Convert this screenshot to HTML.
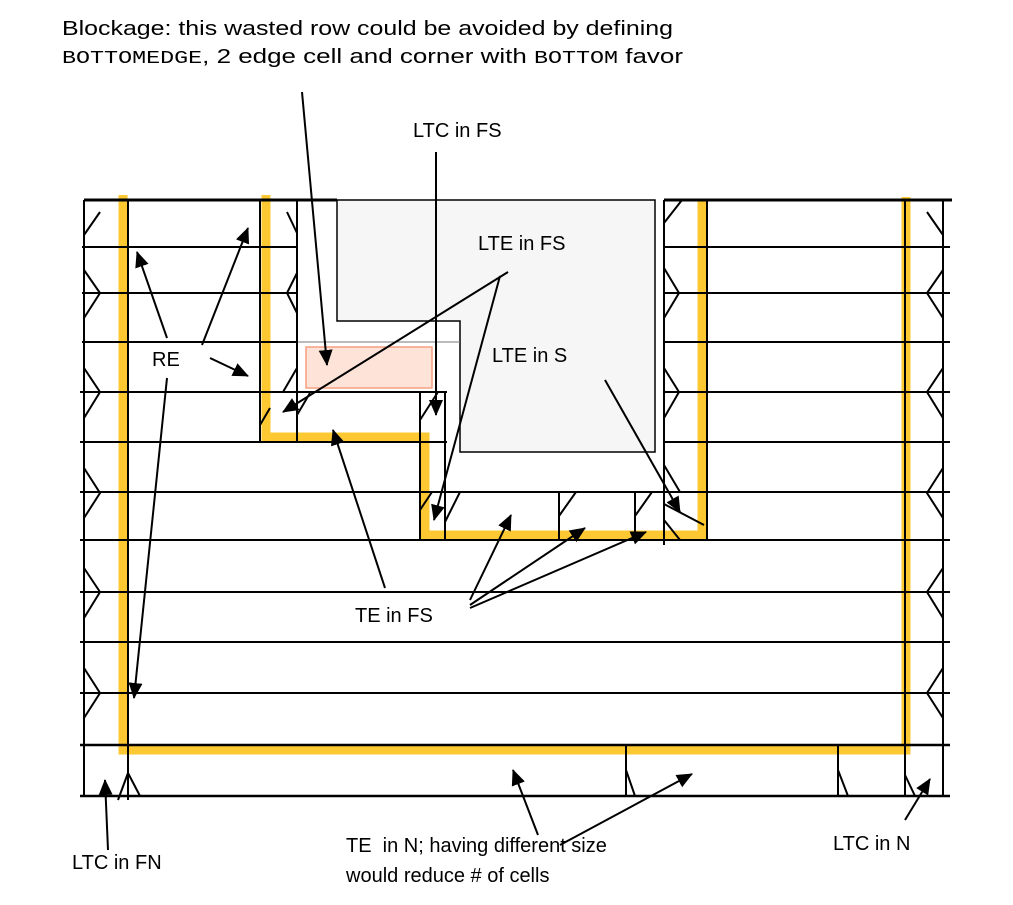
<!DOCTYPE html>
<html><head><meta charset="utf-8"><style>
html,body{margin:0;padding:0;background:#fff;}
svg{display:block;}
text{font-family:"Liberation Sans",sans-serif;font-size:20px;fill:#000;}
.m{font-family:"Liberation Mono",monospace;font-size:18px;}
</style></head><body>
<svg width="1013" height="905" viewBox="0 0 1013 905" xmlns="http://www.w3.org/2000/svg">
<defs>
<marker id="b" markerWidth="16" markerHeight="16" refX="15" refY="8" orient="auto" markerUnits="userSpaceOnUse" viewBox="0 0 16 16"><path d="M0,1 L16,8 L0,15 z" fill="#000"/></marker></defs>
<path d="M337,200 L655,200 L655,452 L460,452 L460,321 L337,321 Z" fill="#f6f6f6" stroke="#000" stroke-width="1.5"/>
<rect x="306" y="347" width="126" height="41" fill="#fde3d8" stroke="#f5a080" stroke-width="1.5"/>
<g fill="none" stroke="#fdc832" stroke-width="9">
<path d="M123,195 L123,750 L906,750 L906,197"/>
<path d="M266,195 L266,437 L425,437 L425,535 L702,535 L702,200"/>
</g>
<g stroke="#000" stroke-width="2" fill="none">
<line x1="84" y1="200" x2="337" y2="200" stroke-width="3"/>
<line x1="664" y1="200" x2="952" y2="200" stroke-width="3"/>
<line x1="82" y1="247" x2="298" y2="247"/>
<line x1="82" y1="293" x2="298" y2="293"/>
<line x1="82" y1="342" x2="298" y2="342"/>
<line x1="298" y1="342" x2="460" y2="342" stroke-width="1" stroke="#777"/>
<line x1="80" y1="392" x2="447" y2="392"/>
<line x1="80" y1="442" x2="447" y2="442"/>
<line x1="80" y1="492" x2="707" y2="492"/>
<line x1="80" y1="540" x2="707" y2="540"/>
<line x1="80" y1="592" x2="950" y2="592"/>
<line x1="80" y1="642" x2="950" y2="642"/>
<line x1="80" y1="693" x2="950" y2="693"/>
<line x1="80" y1="745" x2="950" y2="745" stroke-width="2.5"/>
<line x1="80" y1="796" x2="950" y2="796" stroke-width="2.5"/>
<line x1="664" y1="247" x2="950" y2="247"/>
<line x1="664" y1="293" x2="950" y2="293"/>
<line x1="664" y1="342" x2="950" y2="342"/>
<line x1="664" y1="392" x2="950" y2="392"/>
<line x1="664" y1="442" x2="950" y2="442"/>
<line x1="707" y1="492" x2="950" y2="492"/>
<line x1="707" y1="540" x2="950" y2="540"/>
<line x1="84" y1="200" x2="84" y2="796"/>
<line x1="128" y1="200" x2="128" y2="800"/>
<line x1="260" y1="200" x2="260" y2="442"/>
<line x1="297" y1="200" x2="297" y2="442"/>
<line x1="420" y1="392" x2="420" y2="540"/>
<line x1="445" y1="392" x2="445" y2="540"/>
<line x1="559" y1="492" x2="559" y2="540"/>
<line x1="635" y1="492" x2="635" y2="540"/>
<line x1="664" y1="200" x2="664" y2="545"/>
<line x1="707" y1="200" x2="707" y2="540"/>
<line x1="905" y1="200" x2="905" y2="796"/>
<line x1="943" y1="200" x2="943" y2="796"/>
<line x1="626" y1="745" x2="626" y2="796"/>
<line x1="838" y1="745" x2="838" y2="796"/>
<path d="M84,235 L100,212"/>
<path d="M84,270 L100,293 L84,318 M84,368 L100,392 L84,418 M84,468 L100,493 L84,518 M84,568 L100,592 L84,618 M84,668 L100,693 L84,718"/>
<path d="M943,235 L927,212 M943,270 L927,293 L943,318 M943,368 L927,392 L943,418 M943,468 L927,493 L943,518 M943,568 L927,592 L943,618 M943,668 L927,693 L943,718"/>
<path d="M664,223 L682,200 M664,268 L679,293 L664,318 M664,368 L679,392 L664,418 M664,465 L680,492 M664,520 L680,540"/>
<path d="M297,233 L287,212 M297,273 L287,293 L297,313 M297,368 L283,392 M260,425 L270,408 M297,415 L310,393"/>
<path d="M420,420 L438,392 M420,510 L432,492 M445,522 L460,492 M559,516 L576,492 M635,516 L652,492 M664,504 L704,525"/>
<path d="M118,800 L128,773 L140,796 M626,770 L635,796 M838,770 L848,796 M905,775 L915,796"/>
</g>
<g stroke="#000" stroke-width="2" fill="none" marker-end="url(#b)">
<line x1="302" y1="92" x2="327" y2="365"/>
<line x1="436" y1="152" x2="436" y2="415"/>
<line x1="508" y1="272" x2="283" y2="412"/>
<line x1="500" y1="276" x2="434" y2="520"/>
<line x1="605" y1="380" x2="680" y2="512"/>
<line x1="167" y1="338" x2="137" y2="252"/>
<line x1="202" y1="345" x2="248" y2="228"/>
<line x1="210" y1="358" x2="248" y2="376"/>
<line x1="167" y1="378" x2="134" y2="698"/>
<line x1="385" y1="588" x2="333" y2="430"/>
<line x1="470" y1="600" x2="511" y2="515"/>
<line x1="470" y1="605" x2="585" y2="528"/>
<line x1="470" y1="608" x2="646" y2="532"/>
<line x1="538" y1="835" x2="513" y2="770"/>
<line x1="560" y1="845" x2="692" y2="774"/>
<line x1="108" y1="850" x2="105" y2="780"/>
<line x1="905" y1="820" x2="930" y2="779"/>
</g>
<text x="62" y="35" textLength="611" lengthAdjust="spacingAndGlyphs">Blockage: this wasted row could be avoided by defining</text>
<text x="62" y="63" textLength="621" lengthAdjust="spacingAndGlyphs"><tspan class="m">BOTTOMEDGE</tspan>, 2 edge cell and corner with <tspan class="m">BOTTOM</tspan> favor</text>
<text x="413" y="137">LTC in FS</text>
<text x="478" y="250">LTE in FS</text>
<text x="492" y="362">LTE in S</text>
<text x="152" y="366">RE</text>
<text x="355" y="622">TE in FS</text>
<text x="346" y="852" xml:space="preserve">TE  in N; having different size</text>
<text x="346" y="882">would reduce # of cells</text>
<text x="72" y="869">LTC in FN</text>
<text x="833" y="850">LTC in N</text>
</svg>
</body></html>
